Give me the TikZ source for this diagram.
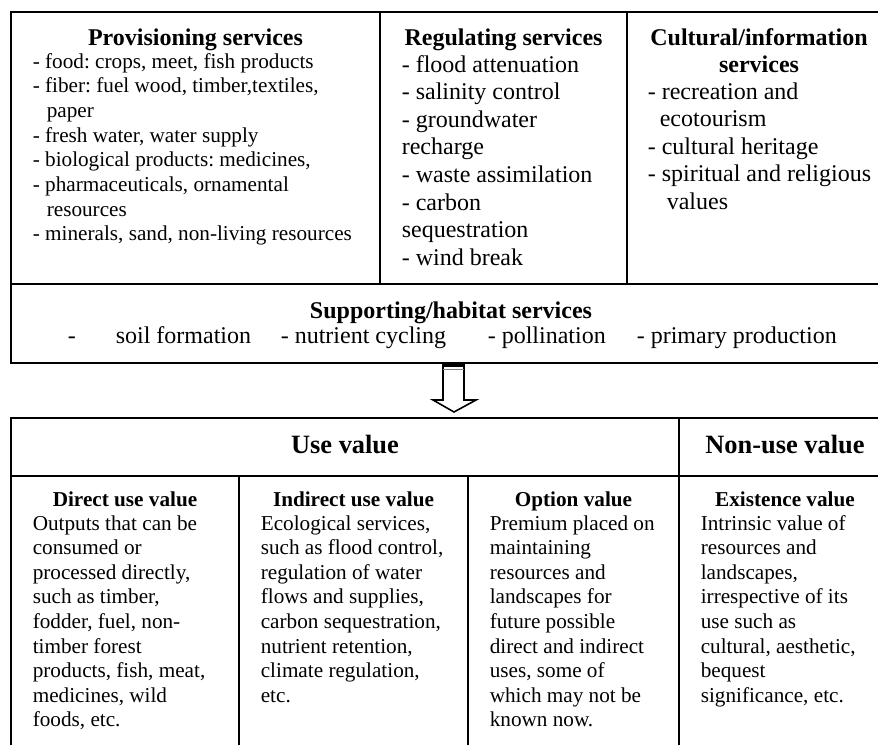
\documentclass[tikz,border=0pt]{standalone}
\usepackage{fontspec}
\setmainfont{Liberation Serif}
\frenchspacing
\begin{document}
\begin{tikzpicture}[x=0.5pt, y=-0.5pt, line width=0.8pt,
    svchead/.style={inner sep=0pt, anchor=base, font=\fontsize{12}{13.8}\selectfont\bfseries},
    svctext/.style={inner sep=0pt, anchor=base west, align=left, font=\fontsize{12}{13.8}\selectfont},
    provtext/.style={inner sep=0pt, anchor=base west, align=left, font=\fontsize{10.6}{12.35}\selectfont},
    valhead/.style={inner sep=0pt, anchor=base, font=\fontsize{13.2}{15}\selectfont\bfseries},
    valsub/.style={inner sep=0pt, anchor=base, font=\fontsize{10.6}{12.3}\selectfont\bfseries},
    valtext/.style={inner sep=0pt, anchor=base west, align=left, font=\fontsize{10.6}{12.3}\selectfont}]
  \useasboundingbox (0,0) rectangle (878,745);

  % services grid
  \draw (878,12) -- (11,12) -- (11,363) -- (878,363);
  \draw (11,284) -- (878,284);
  \draw (380,12) -- (380,284);
  \draw (627,12) -- (627,284);

  % multi-line nodes sit on the baseline of their last line
  \node[svchead] (prov) at (195.5,45) {Provisioning services};
  \node[provtext] (provlist) at (32,240.9) {- food: crops, meet, fish products\\
    - fiber: fuel wood, timber,textiles,\\
    \hspace{7pt}paper\\
    - fresh water, water supply\\
    - biological products: medicines,\\
    - pharmaceuticals, ornamental\\
    \hspace{7pt}resources\\
    - minerals, sand, non-living resources};

  \node[svchead] (reg) at (503.5,45) {Regulating services};
  \node[svctext] (reglist) at (401,265.2) {- flood attenuation\\
    - salinity control\\
    - groundwater\\
    recharge\\
    - waste assimilation\\
    - carbon\\
    sequestration\\
    - wind break};

  \node[svchead, align=center] (cult) at (759,72.6) {Cultural/information\\services};
  \node[svctext] (cultlist) at (647,209.4) {- recreation and\\
    \hspace{6pt}ecotourism\\
    - cultural heritage\\
    - spiritual and religious\\
    \hspace{9.5pt}values};

  \node[svchead] (supp) at (451,318) {Supporting/habitat services};
  \foreach \x/\t [count=\i] in {67/-, 115/soil formation, 280/- nutrient cycling,
      487/- pollination, 636/- primary production}
    \node[svctext] (supp\i) at (\x,343) {\t};

  % block arrow down to the value table
  \draw[fill=white] (443,363) -- (443,400) -- (433,400) -- (454,412)
    -- (476,400) -- (464,400) -- (464,363);
  \fill (443,363) rectangle (464,367);
  \draw[gray, line width=0.5pt] (443,369) -- (464,369);

  % value grid
  \draw (11,745) -- (11,418) -- (878,418);
  \draw (11,476) -- (878,476);
  \draw (679,418) -- (679,745);
  \draw (239,476) -- (239,745);
  \draw (468,476) -- (468,745);

  \node[valhead] (use) at (345,453) {Use value};
  \node[valhead] (nonuse) at (785,453) {Non-use value};

  \node[valsub] (direct) at (125,506) {Direct use value};
  \node[valtext] (directtxt) at (32,726.8) {Outputs that can be\\
    consumed or\\
    processed directly,\\
    such as timber,\\
    fodder, fuel, non-\\
    timber forest\\
    products, fish, meat,\\
    medicines, wild\\
    foods, etc.};

  \node[valsub] (indirect) at (353.5,506) {Indirect use value};
  \node[valtext] (indirecttxt) at (260,702.2) {Ecological services,\\
    such as flood control,\\
    regulation of water\\
    flows and supplies,\\
    carbon sequestration,\\
    nutrient retention,\\
    climate regulation,\\
    etc.};

  \node[valsub] (option) at (573.5,506) {Option value};
  \node[valtext] (optiontxt) at (489,726.8) {Premium placed on\\
    maintaining\\
    resources and\\
    landscapes for\\
    future possible\\
    direct and indirect\\
    uses, some of\\
    which may not be\\
    known now.};

  \node[valsub] (exist) at (785,506) {Existence value};
  \node[valtext] (existtxt) at (700,702.2) {Intrinsic value of\\
    resources and\\
    landscapes,\\
    irrespective of its\\
    use such as\\
    cultural, aesthetic,\\
    bequest\\
    significance, etc.};
\end{tikzpicture}
\end{document}
